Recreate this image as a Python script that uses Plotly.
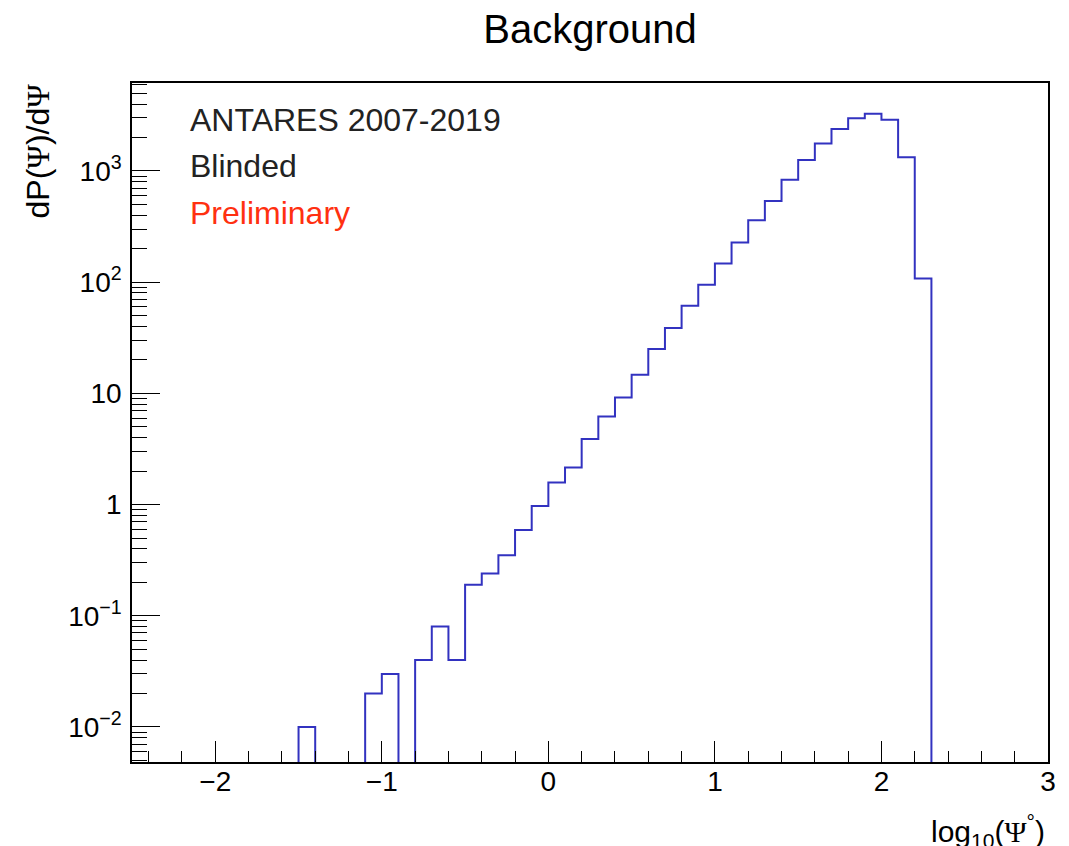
import plotly.graph_objects as go

# ---- data: histogram of log10(Psi) for background ----
bin_edges = [-2.5, -2.4, -2.3, -2.2, -2.1, -2.0, -1.9, -1.8, -1.7, -1.6,
             -1.5, -1.4, -1.3, -1.2, -1.1, -1.0, -0.9, -0.8, -0.7, -0.6,
             -0.5, -0.4, -0.3, -0.2, -0.1, 0.0, 0.1, 0.2, 0.3, 0.4,
             0.5, 0.6, 0.7, 0.8, 0.9, 1.0, 1.1, 1.2, 1.3, 1.4,
             1.5, 1.6, 1.7, 1.8, 1.9, 2.0, 2.1, 2.2, 2.3, 2.4,
             2.5, 2.6, 2.7, 2.8, 2.9, 3.0]
bin_values = [0, 0, 0, 0, 0, 0, 0, 0, 0, 0,
              0.01, 0, 0, 0, 0.02, 0.03, 0, 0.04, 0.08, 0.04,
              0.19, 0.24, 0.35, 0.59, 0.97, 1.58, 2.16, 3.89, 6.2, 9.2,
              14.7, 25, 38.7, 61.5, 95, 147, 227, 360, 537, 835,
              1256, 1763, 2388, 2980, 3275, 2890, 1328, 108, 0, 0,
              0, 0, 0, 0, 0]

ytick_vals = [0.01, 0.1, 1, 10, 100, 1000]
ytick_text = ["10<sup>\u22122</sup>", "10<sup>\u22121</sup>", "1", "10",
              "10<sup>2</sup>", "10<sup>3</sup>"]
xtick_vals = [-2, -1, 0, 1, 2, 3]

FLOOR = 1e-6  # empty bins are drawn below the visible range (ROOT style)
step_y = [v if v > 0 else FLOOR for v in bin_values]
step_y = step_y + [step_y[-1]]

fig = go.Figure()
fig.add_trace(go.Scatter(
    x=bin_edges, y=step_y, mode="lines", line_shape="hv",
    line=dict(color="#3232c0", width=2), hoverinfo="skip", showlegend=False))

# minor ticks on log axis: 2..9 per decade
yminor = []
for dec in [0.001, 0.01, 0.1, 1, 10, 100, 1000]:
    for k in range(2, 10):
        yminor.append(k * dec)

FONT = "Liberation Sans, Arial, Helvetica, sans-serif"
PSI = '<span style="font-family:Liberation Serif, Times New Roman, serif">\u03a8</span>'

W, H = 1061, 838          # page has an 8px body margin
L, T = 124, 75
PW, PH = 916, 679
fig.update_layout(
    width=W, height=H,
    margin=dict(l=L, r=W - L - PW, t=T, b=H - T - PH),
    paper_bgcolor="white", plot_bgcolor="white",
    font=dict(family=FONT, color="black", size=28),
    title=dict(text="Background", x=0.5, xref="paper", xanchor="center",
               y=1 - 21 / H, yanchor="middle", yref="container",
               font=dict(size=40, color="black", family=FONT)),
    xaxis=dict(range=[-2.5, 3.0], showgrid=False, zeroline=False,
               showline=True, linecolor="black", linewidth=1.5, mirror=True,
               ticks="inside", ticklen=21, tickwidth=1.3, tickcolor="black",
               tickvals=xtick_vals, tickfont=dict(size=28),
               ticklabelstandoff=-6,
               minor=dict(ticks="inside", ticklen=11, tickwidth=1.3,
                          tickcolor="black", dtick=0.2, tick0=0, showgrid=False)),
    yaxis=dict(type="log", range=[-2.315, 3.791], showgrid=False, zeroline=False,
               showline=True, linecolor="black", linewidth=1.5, mirror=True,
               ticks="inside", ticklen=28, tickwidth=1.3, tickcolor="black",
               tickvals=ytick_vals, ticktext=ytick_text, tickfont=dict(size=28),
               ticklabelstandoff=3,
               minor=dict(ticks="inside", ticklen=15, tickwidth=1.3,
                          tickcolor="black", tickvals=yminor, showgrid=False)),
)

def px_x(px):
    # px in page (reference) coordinates
    return (px - 132) / PW

def px_y(py):
    return (762 - py) / PH

annots = [
    dict(text="ANTARES 2007-2019", x=px_x(188), y=px_y(120), color="#222222", size=32),
    dict(text="Blinded", x=px_x(188), y=px_y(166), color="#222222", size=32),
    dict(text="Preliminary", x=px_x(188), y=px_y(212.5), color="#ff3010", size=32),
]
for a in annots:
    fig.add_annotation(text=a["text"], x=a["x"], y=a["y"], xref="paper", yref="paper",
                       xanchor="left", yanchor="middle", showarrow=False,
                       font=dict(size=a["size"], color=a["color"], family=FONT))

# axis titles (ROOT style: aligned to the end of the axis)
fig.add_annotation(text="dP(" + PSI + ")/d" + PSI, textangle=-90,
                   x=px_x(37), y=px_y(82), xref="paper", yref="paper",
                   xanchor="center", yanchor="top", showarrow=False,
                   font=dict(size=32, color="black", family=FONT))
fig.add_annotation(text="log<sub>10</sub>(" + PSI + "<sup>\u00b0</sup>)",
                   x=px_x(1047), y=px_y(831), xref="paper", yref="paper",
                   xanchor="right", yanchor="middle", showarrow=False,
                   font=dict(size=30, color="black", family=FONT))

fig.write_html("out.html")
